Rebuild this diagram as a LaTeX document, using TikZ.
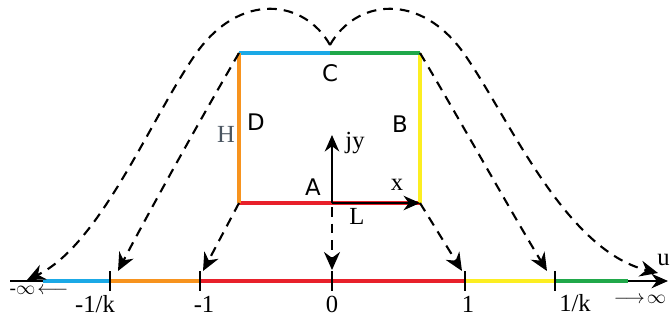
\documentclass[tikz,border=0pt]{standalone}
\usepackage{fontspec}
\setmainfont{Liberation Serif}
\newfontfamily\lettersf{DejaVu Sans}
\usepackage{tikz}
\usetikzlibrary{arrows.meta}
\definecolor{segblue}{HTML}{1BA9E6}
\definecolor{segorange}{HTML}{F7931E}
\definecolor{segred}{HTML}{E8202A}
\definecolor{segyellow}{HTML}{FCEE21}
\definecolor{seggreen}{HTML}{20A84A}
\definecolor{hgray}{HTML}{4A5560}

\begin{document}
\begin{tikzpicture}[
  x=0.02cm, y=-0.02cm,
  font=\fontsize{14}{16}\selectfont,
  seg/.style={line width=2.4pt},
  tick/.style={line width=1.3pt},
  axis/.style={-{Stealth[length=3.3mm, width=2.9mm]}, line width=1.1pt},
  map/.style={-{Stealth[length=3.6mm, width=3.2mm]}, line width=1.2pt,
              dash pattern=on 5.5pt off 4pt},
  corner/.style={font=\lettersf\fontsize{13}{15}\selectfont}
]
  \useasboundingbox (0,0) rectangle (670,322);

  % rectangle corners
  \coordinate (bl) at (239,203);
  \coordinate (br) at (420,203);
  \coordinate (tr) at (420,53);
  \coordinate (tl) at (239,53);
  \coordinate (tm) at (330,53);
  \coordinate (o)  at (332,203);

  % points on the u axis
  \coordinate (left)  at (10,281);
  \coordinate (right) at (668,281);
  \coordinate (ninf)  at (43,281);
  \coordinate (mk)    at (110,281);
  \coordinate (m1)    at (200,281);
  \coordinate (z)     at (332,281);
  \coordinate (p1)    at (465,281);
  \coordinate (pk)    at (555,281);
  \coordinate (pinf)  at (628,281);

  \draw[axis] (left) -- (right);
  \draw[seg, segblue]   (ninf) -- (mk);
  \draw[seg, segorange] (mk) -- (m1);
  \draw[seg, segred]    (m1) -- (p1);
  \draw[seg, segyellow] (p1) -- (pk);
  \draw[seg, seggreen]  (pk) -- (pinf);
  \foreach \t in {mk, m1, z, p1, pk}
    \draw[tick] (\t) ++(0,-10) -- ++(0,20);

  \draw[seg, segred]    (bl) -- (br);
  \draw[seg, segyellow] (br) -- (tr);
  \draw[seg, seggreen]  (tr) -- (tm);
  \draw[seg, segblue]   (tm) -- (tl);
  \draw[seg, segorange] (tl) -- (bl);

  % x and jy axes
  \draw[axis, line width=1pt] (o) -- (br);
  \draw[axis, line width=1pt] (o) -- (332,135);

  % mappings onto the axis
  \draw[map] (332,207) -- (332,270);
  \draw[map] (bl) -- (203,271);
  \draw[map] (br) -- (462,271);
  \draw[map] (tl) .. controls (200,120) and (150,210) .. (118,271);
  \draw[map] (tr) .. controls (460,120) and (510,210) .. (547,271);
  \draw[map] (330,45) .. controls (305,0) and (240,-10) .. (195,55)
                      .. controls (150,120) and (100,245) .. (27,280);
  \draw[map] (330,45) .. controls (355,0) and (420,-10) .. (465,55)
                      .. controls (510,120) and (565,250) .. (658,273);

  \node[corner] (lC) at (330,73)  {C};
  \node[corner] (lD) at (256,122) {D};
  \node[corner] (lB) at (400,124) {B};
  \node[corner] (lA) at (313,187) {A};
  \node[text=hgray] (lH) at (226,134) {H};
  \node (ljy) at (355,143) {jy};
  \node (lx)  at (397,185) {x};
  \node (lL)  at (357,216) {L};
  \node[anchor=east, inner sep=0pt] (lu) at (670,260) {u};

  \node (tmk) at (95,304)  {-1/k};
  \node (tm1) at (204,304) {-1};
  \node (tz)  at (332,304) {0};
  \node (tp1) at (468,304) {1};
  \node (tpk) at (575,303) {1/k};
  \node[font=\fontsize{11}{13}\selectfont] (tninf) at (39,290) {-$\infty\!\longleftarrow$};
  \node[font=\fontsize{11}{13}\selectfont] (tpinf) at (640,299) {$\longrightarrow\!\infty$};
\end{tikzpicture}
\end{document}
